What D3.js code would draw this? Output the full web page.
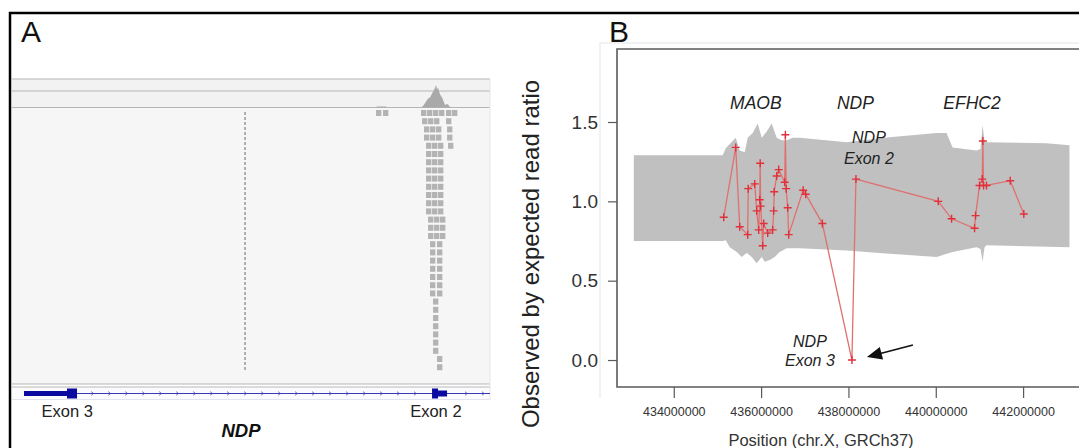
<!DOCTYPE html>
<html>
<head>
<meta charset="utf-8">
<script src="https://cdn.jsdelivr.net/npm/d3@7"></script>
<style>
  body { margin: 0; background: #fff; }
  svg { display: block; }
  text { font-family: Arial, "Liberation Sans", sans-serif; }
</style>
</head>
<body>
<svg id="fig" width="1079" height="448"></svg>
<script>
// ===== Panel B: observed / expected read ratio per captured target (chrX, Mb) =====
const targetPos = [435.144, 435.419, 435.510, 435.693, 435.705, 435.854, 435.899, 435.945, 435.968, 435.979,
                   435.991, 436.037, 436.059, 436.151, 436.265, 436.288, 436.300, 436.357, 436.403, 436.540,
                   436.556, 436.574, 436.609, 436.632, 436.963, 437.021, 437.403, 438.080, 438.172, 440.057,
                   440.362, 440.888, 440.911, 441.002, 441.064, 441.078, 441.094, 441.162, 441.705, 442.016];
const targetRatio = [0.90, 1.34, 0.84, 0.79, 1.08, 1.11, 0.94, 0.82, 1.01, 1.24,
                     0.97, 0.72, 0.86, 0.80, 0.82, 0.94, 1.06, 1.16, 1.20, 1.12,
                     1.42, 1.08, 0.96, 0.79, 1.07, 1.045, 0.86, 0.00, 1.14, 1.00,
                     0.89, 0.83, 0.91, 1.10, 1.14, 1.38, 1.10, 1.10, 1.13, 0.92];

// reference range of the ratio (grey band), upper and lower edges
const bandUpperPos = [433.085, 435.120, 435.190, 435.419, 435.510, 435.625, 435.693, 435.808, 435.922, 436.014,
                      436.128, 436.243, 436.357, 436.471, 436.586, 436.723, 436.883, 437.959, 438.943, 440.018,
                      440.247, 440.384, 440.934, 441.025, 441.071, 441.117, 441.162, 442.535, 443.062];
const bandUpper    = [1.29, 1.29, 1.335, 1.40, 1.32, 1.31, 1.40, 1.43, 1.49, 1.40,
                      1.44, 1.49, 1.40, 1.385, 1.385, 1.40, 1.40, 1.373, 1.404, 1.43,
                      1.43, 1.34, 1.32, 1.33, 1.48, 1.38, 1.373, 1.366, 1.354];
const bandLowerPos = [433.085, 435.120, 435.190, 435.281, 435.442, 435.556, 435.670, 435.785, 435.899, 436.014,
                      436.082, 436.197, 436.311, 436.426, 436.586, 436.883, 437.959, 438.943, 440.018, 440.384,
                      440.934, 441.025, 441.071, 441.117, 441.162, 443.062];
const bandLower    = [0.75, 0.75, 0.755, 0.71, 0.68, 0.65, 0.675, 0.65, 0.61, 0.65,
                      0.62, 0.63, 0.65, 0.68, 0.705, 0.705, 0.69, 0.67, 0.65, 0.68,
                      0.71, 0.70, 0.62, 0.71, 0.724, 0.71];

const geneNames = ["MAOB", "NDP", "EFHC2"];
const genePos   = [435.88, 438.16, 440.83];
const yTicks = [0, 0.5, 1.0, 1.5];
const xTicks = [434, 436, 438, 440, 442];

// ===== Panel A: read pile-up over NDP (kb from left edge of the view) =====
const covPos   = [9.215, 9.241, 9.468, 9.494, 10.354, 10.405, 10.481, 10.532, 10.582, 10.633, 10.684, 10.734,
                  10.759, 10.785, 10.835, 10.886, 10.937, 10.962, 10.987, 11.038, 11.089, 11.139];
const covDepth = [0, 2, 2, 0, 0, 3, 12, 18, 20, 28, 35, 45, 36, 40, 26, 20, 10, 4, 7, 6, 1, 0];

const readRows = [
  [9.215, 9.392, 10.354, 10.506, 10.658, 10.810, 10.987, 11.139],
  [10.380, 10.532, 10.684, 10.987],
  [10.430, 10.582, 10.734, 11.013],
  [10.430, 10.582, 10.734, 11.013],
  [10.481, 10.633, 10.785, 11.038],
  [10.481, 10.633, 10.785], [10.481, 10.633, 10.785], [10.481, 10.633, 10.785], [10.481, 10.633, 10.785],
  [10.481, 10.633, 10.785], [10.481, 10.633, 10.785], [10.481, 10.633, 10.785], [10.481, 10.633, 10.785],
  [10.532, 10.684, 10.835], [10.532, 10.684, 10.835], [10.532, 10.684, 10.835],
  [10.582, 10.759], [10.582, 10.759], [10.582, 10.759], [10.582, 10.759],
  [10.582, 10.759], [10.582, 10.759], [10.582, 10.759],
  [10.658], [10.658], [10.658], [10.658], [10.658], [10.658], [10.658],
  [10.759], [10.759]
];
const readLen = 0.15;
const breakPos = 5.899;                    // deletion breakpoint marker
const utrSpan   = [0.304, 1.418];
const exon3Span = [1.392, 1.646];
const exon2Span = [10.633, 10.785];
const exon2Utr  = [10.785, 11.013];
const exonLabels = ["Exon 3", "Exon 2"];
const exonLabelPos = [1.40, 10.73];

// ================================================================
const svg = d3.select("#fig");
svg.append("rect").attr("width", 1079).attr("height", 448).attr("fill", "#fff");

// ---------------- Panel A ----------------
const xa = d3.scaleLinear().domain([0, 12.1]).range([12, 490]);
const covY = d3.scaleLinear().domain([0, 45]).range([107.5, 85]);
const rowY = d3.scaleLinear().domain([0, 1]).range([110, 118.2]);

const gA = svg.append("g");
gA.append("rect").attr("x", 12).attr("y", 79).attr("width", 478).attr("height", 305).attr("fill", "#f6f6f6");
gA.append("rect").attr("x", 12).attr("y", 79).attr("width", 478).attr("height", 28).attr("fill", "#f2f2f2");
gA.append("rect").attr("x", 12).attr("y", 388).attr("width", 478).attr("height", 11).attr("fill", "#fbfbfd");
[79, 91, 107.5, 384, 387].forEach(y =>
  gA.append("line").attr("x1", 12).attr("x2", 490).attr("y1", y).attr("y2", y)
    .attr("stroke", "#b5b5b5").attr("stroke-width", 1));
gA.append("line").attr("x1", 12).attr("x2", 490).attr("y1", 399.5).attr("y2", 399.5)
  .attr("stroke", "#e4e4ee").attr("stroke-width", 1);
gA.append("line").attr("x1", 490).attr("x2", 490).attr("y1", 79).attr("y2", 400)
  .attr("stroke", "#e6e6e6").attr("stroke-width", 1);

// coverage histogram
gA.append("path")
  .datum(covPos.map((p, i) => [p, covDepth[i]]))
  .attr("d", d3.area().x(d => xa(d[0])).y0(covY(0)).y1(d => covY(d[1])))
  .attr("fill", "#a9a9a9");

// aligned reads
readRows.forEach((row, i) => {
  gA.selectAll(null).data(row).enter().append("rect")
    .attr("x", d => xa(d))
    .attr("y", rowY(i))
    .attr("width", xa(readLen) - xa(0) - 0.6)
    .attr("height", 6)
    .attr("fill", "#b3b3b3");
});

// breakpoint marker
gA.append("line").attr("x1", xa(breakPos)).attr("x2", xa(breakPos))
  .attr("y1", 112).attr("y2", 370)
  .attr("stroke", "#6a6a6a").attr("stroke-width", 1).attr("stroke-dasharray", "3,2");

// gene model
const geneY = 393.5;
gA.append("line").attr("x1", xa(exon3Span[1])).attr("x2", 490).attr("y1", geneY).attr("y2", geneY)
  .attr("stroke", "#3a3ab8").attr("stroke-width", 1);
d3.range(exon3Span[1] + 0.4, 12.1, 0.43).forEach(p => {
  if (p > exon2Span[0] - 0.1 && p < exon2Utr[1] + 0.1) return;
  gA.append("path")
    .attr("d", `M${xa(p) - 1.5},${geneY - 1.8}L${xa(p) + 0.5},${geneY}L${xa(p) - 1.5},${geneY + 1.8}`)
    .attr("fill", "none").attr("stroke", "#3a3ab8").attr("stroke-width", 0.8);
});
gA.append("rect").attr("x", xa(utrSpan[0])).attr("y", geneY - 2.5)
  .attr("width", xa(utrSpan[1]) - xa(utrSpan[0])).attr("height", 5).attr("fill", "#0a0aa0");
gA.append("rect").attr("x", xa(exon3Span[0])).attr("y", geneY - 5)
  .attr("width", xa(exon3Span[1]) - xa(exon3Span[0])).attr("height", 10).attr("fill", "#0a0aa0");
gA.append("rect").attr("x", xa(exon2Span[0])).attr("y", geneY - 5)
  .attr("width", xa(exon2Span[1]) - xa(exon2Span[0])).attr("height", 10).attr("fill", "#0a0aa0");
gA.append("rect").attr("x", xa(exon2Utr[0])).attr("y", geneY - 3)
  .attr("width", xa(exon2Utr[1]) - xa(exon2Utr[0])).attr("height", 6).attr("fill", "#0a0aa0");

gA.selectAll(null).data(exonLabels).enter().append("text")
  .attr("x", (d, i) => xa(exonLabelPos[i])).attr("y", 417)
  .attr("text-anchor", "middle").attr("font-size", 16.5).attr("fill", "#222")
  .text(d => d);
gA.append("text").attr("x", 241).attr("y", 437).attr("text-anchor", "middle")
  .attr("font-size", 18.5).attr("font-weight", "bold").attr("font-style", "italic").attr("fill", "#111")
  .text("NDP");
svg.append("text").attr("x", 21).attr("y", 42).attr("font-size", 30).attr("fill", "#111").text("A");

// ---------------- Panel B ----------------
const x = d3.scaleLinear().domain([432.70, 443.28]).range([617, 1079]);
const y = d3.scaleLinear().domain([-0.17, 1.96]).range([387, 49]);
const gB = svg.append("g");

// faint figure frame behind the plot
gB.append("path").attr("d", "M600,398V43H1079").attr("fill", "none").attr("stroke", "#eeeeee").attr("stroke-width", 1.5);

// grey reference band
const bandPoly = bandUpperPos.map((p, i) => [p, bandUpper[i]])
  .concat(bandLowerPos.map((p, i) => [p, bandLower[i]]).reverse());
gB.append("path").datum(bandPoly)
  .attr("d", d3.line().x(d => x(d[0])).y(d => y(d[1])).curve(d3.curveLinearClosed))
  .attr("fill", "#c0c0c0");

// plot frame (left, top, bottom)
gB.append("path").attr("d", `M1079,${y.range()[1]}H617V${y.range()[0]}H1079`)
  .attr("fill", "none").attr("stroke", "#5a5a5a").attr("stroke-width", 1.6);

// y axis
const yAxis = gB.append("g").attr("transform", "translate(617,0)")
  .call(d3.axisLeft(y).tickValues(yTicks).tickFormat(d3.format(".1f")).tickSize(9).tickPadding(10));
yAxis.select(".domain").remove();
yAxis.selectAll("line").attr("stroke", "#5a5a5a").attr("stroke-width", 1.2);
yAxis.selectAll("text").attr("font-size", 19).attr("fill", "#333").attr("font-family", "Arial, 'Liberation Sans', sans-serif");

// x axis
const xAxis = gB.append("g").attr("transform", `translate(0,${y.range()[0]})`)
  .call(d3.axisBottom(x).tickValues(xTicks).tickFormat(d => String(d * 1e6)).tickSize(11).tickPadding(9));
xAxis.select(".domain").remove();
xAxis.selectAll("line").attr("stroke", "#5a5a5a").attr("stroke-width", 1.2);
xAxis.selectAll("text").attr("font-size", 12.5).attr("fill", "#333").attr("font-family", "Arial, 'Liberation Sans', sans-serif");

// axis titles
gB.append("text").attr("transform", "translate(539,254) rotate(-90)")
  .attr("text-anchor", "middle").attr("font-size", 24).attr("fill", "#222")
  .text("Observed by expected read ratio");
gB.append("text").attr("x", 821).attr("y", 446).attr("text-anchor", "middle")
  .attr("font-size", 16.5).attr("fill", "#333").text("Position (chr.X, GRCh37)");

// gene names
gB.selectAll(null).data(geneNames).enter().append("text")
  .attr("x", (d, i) => x(genePos[i])).attr("y", 109)
  .attr("text-anchor", "middle").attr("font-size", 17.5).attr("font-style", "italic").attr("fill", "#222")
  .text(d => d);

// ratio trace
const pts = targetPos.map((p, i) => [p, targetRatio[i]]);
gB.append("path").datum(pts)
  .attr("d", d3.line().x(d => x(d[0])).y(d => y(d[1])))
  .attr("fill", "none").attr("stroke", "#e07070").attr("stroke-width", 1.3);
gB.selectAll(null).data(pts).enter().append("path")
  .attr("transform", d => `translate(${x(d[0])},${y(d[1])})`)
  .attr("d", "M-4,0H4M0,-4V4")
  .attr("stroke", "#e0303a").attr("stroke-width", 1.4).attr("fill", "none");

// exon annotations
const ex2 = [targetPos[28], targetRatio[28]];
const ex3 = [targetPos[27], targetRatio[27]];
const note2 = gB.append("text").attr("text-anchor", "middle").attr("font-size", 16)
  .attr("font-style", "italic").attr("fill", "#222");
note2.append("tspan").attr("x", x(ex2[0]) + 13).attr("y", y(ex2[1]) - 36).text("NDP");
note2.append("tspan").attr("x", x(ex2[0]) + 13).attr("y", y(ex2[1]) - 15).text("Exon 2");
const note3 = gB.append("text").attr("text-anchor", "middle").attr("font-size", 16)
  .attr("font-style", "italic").attr("fill", "#222");
note3.append("tspan").attr("x", x(ex3[0]) - 42).attr("y", y(ex3[1]) - 13).text("NDP");
note3.append("tspan").attr("x", x(ex3[0]) - 42).attr("y", y(ex3[1]) + 6).text("Exon 3");

// arrow pointing at the deleted exon
const tip = [x(ex3[0]) + 15, y(ex3[1]) - 3];
const tail = [tip[0] + 46, tip[1] - 12];
const ang = Math.atan2(tip[1] - tail[1], tip[0] - tail[0]);
gB.append("line").attr("x1", tail[0]).attr("y1", tail[1])
  .attr("x2", tip[0] - 10 * Math.cos(ang)).attr("y2", tip[1] - 10 * Math.sin(ang))
  .attr("stroke", "#111").attr("stroke-width", 1.6);
const hl = 15, hw = 6.5;
const bx = tip[0] - hl * Math.cos(ang), by = tip[1] - hl * Math.sin(ang);
gB.append("path")
  .attr("d", `M${tip[0]},${tip[1]}L${bx + hw * Math.sin(ang)},${by - hw * Math.cos(ang)}L${bx - hw * Math.sin(ang)},${by + hw * Math.cos(ang)}Z`)
  .attr("fill", "#111");

svg.append("text").attr("x", 609).attr("y", 42).attr("font-size", 30).attr("fill", "#111").text("B");

// outer figure border (top and left)
svg.append("path").attr("d", "M10,448V13H1079").attr("fill", "none").attr("stroke", "#000").attr("stroke-width", 2.5);
</script>
</body>
</html>
